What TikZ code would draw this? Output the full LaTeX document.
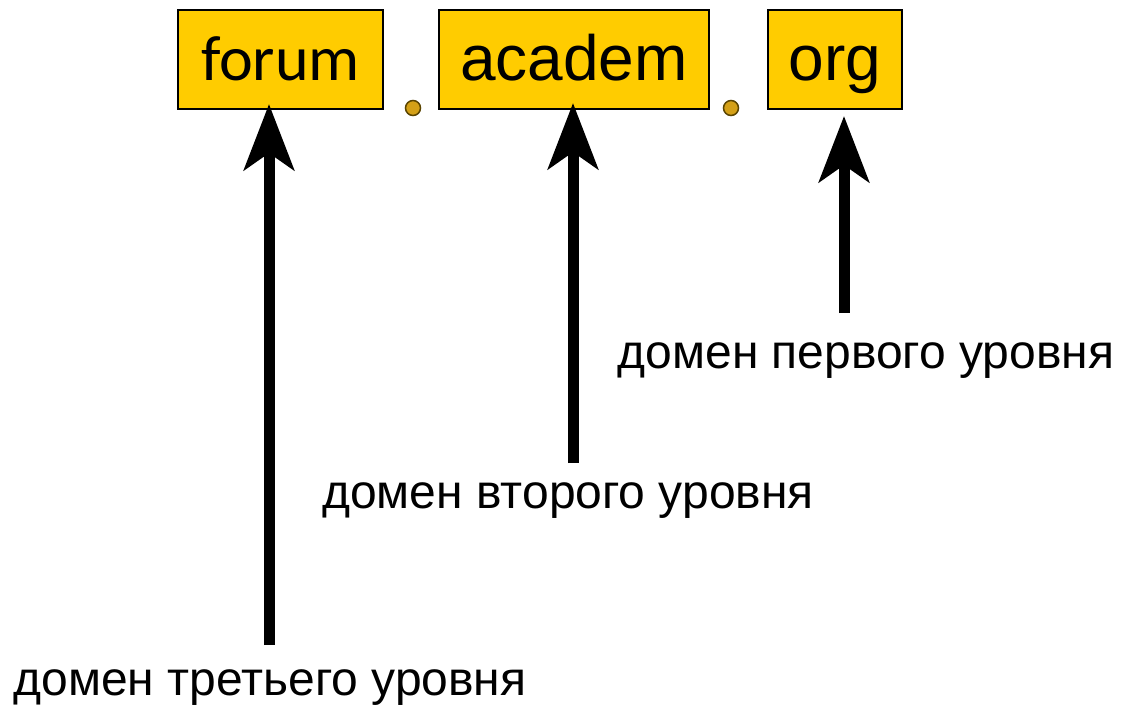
\documentclass[tikz,border=0pt]{standalone}
\usepackage{fontspec}
\setmainfont{Liberation Sans}
\newfontfamily\forumfont{Carlito}
\usetikzlibrary{arrows.meta}

\definecolor{partfill}{HTML}{FFCC00}
\definecolor{dotfill}{HTML}{D4A017}
\definecolor{dotline}{HTML}{5A4400}

\begin{document}
\begin{tikzpicture}[x=1pt, y=-1pt,
		part/.style={draw, line width=2pt, fill=partfill, inner sep=0pt,
			minimum height=99pt, text height=46pt, text depth=5pt,
			font=\fontsize{64}{70}\selectfont},
		lbl/.style={anchor=base, inner sep=0pt, font=\fontsize{48}{56}\selectfont},
		sep/.style={circle, draw=dotline, line width=1.5pt, fill=dotfill, inner sep=0pt, minimum size=15pt},
		pointer/.style={line width=11pt, -{Stealth[length=66pt, width=50pt, inset=17pt]}}]
		\useasboundingbox (0, 0) rectangle (1122, 710);
		\node[part, minimum width=205pt] (forum) at (280.5, 59.5) {\forumfont forum};
		\node[part, minimum width=270pt] (academ) at (574, 59.5) {academ};
		\node[part, minimum width=134pt] (org) at (835, 59.5) {org};
		\node[sep] (dot1) at (413, 108) {};
		\node[sep] (dot2) at (731, 108) {};
		\node[lbl] (first) at (866, 368) {домен первого уровня};
		\node[lbl] (second) at (568, 508) {домен второго уровня};
		\node[lbl] (third) at (270, 695) {домен третьего уровня};
		\coordinate (t1) at (844, 313);
		\coordinate (t2) at (573, 463);
		\coordinate (t3) at (269, 645);
		\path [draw, pointer] (t3) -- ([yshift=6pt]t3 |- forum.south);
		\path [draw, pointer] (t2) -- ([yshift=7pt]t2 |- academ.south);
		\path [draw, pointer] (t1) -- ([yshift=-6pt]t1 |- org.south);
	\end{tikzpicture}
\end{document}
